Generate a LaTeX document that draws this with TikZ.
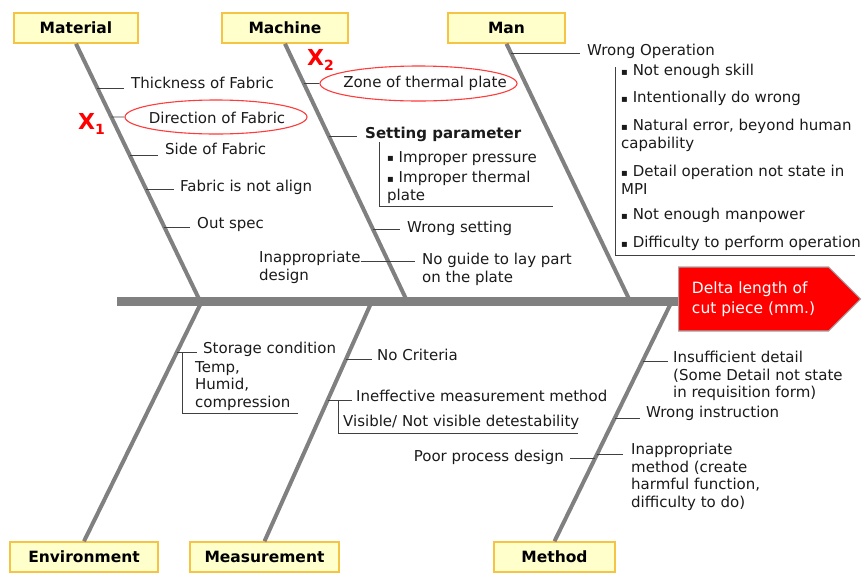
\documentclass[tikz,border=0pt]{standalone}
\usepackage{fontspec}
\setmainfont{DejaVu Sans}
\usetikzlibrary{shapes.geometric,shapes.symbols}

\definecolor{bonegray}{HTML}{808080}
\definecolor{twiggray}{HTML}{404040}
\definecolor{catfill}{HTML}{FFFFCC}
\definecolor{catedge}{HTML}{F5C445}
\definecolor{ringred}{HTML}{FF3B3B}
\definecolor{inkblack}{HTML}{1A1A1A}

\tikzset{
  cat/.style={draw=catedge, fill=catfill, line width=1.5pt, minimum height=30,
    inner sep=0, font=\fontsize{15.5}{18}\selectfont\bfseries},
  bone/.style={draw=bonegray, line width=4pt},
  spine/.style={draw=bonegray, line width=9pt},
  twig/.style={draw=twiggray, line width=0.9pt},
  lbl/.style={inner sep=0, align=left, anchor=north west, text=inkblack,
    font=\fontsize{15}{17.5}\selectfont},
  ring/.style={ellipse, draw=ringred, line width=1.1pt, inner sep=0},
  xmark/.style={inner sep=0, anchor=base west, text=red,
    font=\fontsize{22}{22}\selectfont\bfseries},
}
\newcommand{\xsub}[1]{\raisebox{-5pt}{\fontsize{14}{14}\selectfont #1}}
\newcommand{\sqb}{\raisebox{0.5pt}{\fontsize{10}{10}\selectfont ▪}\ }

\begin{document}
\begin{tikzpicture}[x=1pt,y=-1pt]
\useasboundingbox (0,0) rectangle (862,574);

% category boxes
\node[cat, minimum width=124] (mat) at (76,28) {Material};
\node[cat, minimum width=126] (mac) at (285,28) {Machine};
\node[cat, minimum width=117] (man) at (506.5,28) {Man};
\node[cat, minimum width=148] (env) at (84,557) {Environment};
\node[cat, minimum width=149] (mea) at (264.5,557) {Measurement};
\node[cat, minimum width=121] (met) at (554.5,557) {Method};

% effect
\node[signal, signal to=east, signal pointer angle=90, fill=red, draw=gray!70,
  line width=1.2pt, minimum width=182, minimum height=64, inner sep=0,
  anchor=west, text=white, align=left, font=\fontsize{15.5}{20}\selectfont]
  (head) at (678,299) {Delta length of\\cut piece (mm.)};

% spine and bones
\coordinate (tail) at (117,301);
\coordinate (matS) at (200,301);
\coordinate (macS) at (407,301);
\coordinate (manS) at (630,301);
\coordinate (envS) at (202,301);
\coordinate (meaS) at (372,301);
\coordinate (metS) at (672,301);
\draw[bone] (mat.south) -- (matS);
\draw[bone] (mac.south) -- (macS);
\draw[bone] (man.south) -- (manS);
\draw[bone] (env.north) -- (envS);
\draw[bone] (mea.north) -- (meaS);
\draw[bone] (met.north) -- (metS);
\draw[spine] (tail) -- (tail -| head.west);

% ---------------- Material
\node[lbl] (m1) at (131,77) {Thickness of Fabric};
\node[ring, minimum width=182, minimum height=34] (m2) at (216,117) {};
\node[lbl, anchor=center] (m2t) at (217,117.5) {Direction of Fabric};
\node[lbl] (m3) at (165,143) {Side of Fabric};
\node[lbl] (m4) at (180,180) {Fabric is not align};
\node[lbl] (m5) at (197,217) {Out spec};
\node[xmark] (x1) at (78,129) {X\xsub{1}};
\coordinate (pm1) at (intersection of mat.south--matS and 0,88--800,88);
\coordinate (pm2) at (intersection of mat.south--matS and 0,117--800,117);
\coordinate (pm3) at (intersection of mat.south--matS and 0,155--800,155);
\coordinate (pm4) at (intersection of mat.south--matS and 0,189--800,189);
\coordinate (pm5) at (intersection of mat.south--matS and 0,227--800,227);
\draw[twig, shorten >=7pt] (pm1) -- (pm1 -| m1.west);
\draw[twig] (pm2) -- (m2.west);
\draw[twig, shorten >=7pt] (pm3) -- (pm3 -| m3.west);
\draw[twig, shorten >=6pt] (pm4) -- (pm4 -| m4.west);
\draw[twig, shorten >=7pt] (pm5) -- (pm5 -| m5.west);

% ---------------- Machine
\node[ring, minimum width=197, minimum height=35] (c1) at (418.5,83.5) {};
\node[lbl, anchor=center] (c1t) at (425,83.5) {Zone of thermal plate};
\node[xmark] (x2) at (307,65) {X\xsub{2}};
\node[lbl, font=\fontsize{15}{17.5}\selectfont\bfseries] (c2) at (365,127) {Setting parameter};
\node[lbl] (c2a) at (387,151) {\sqb Improper pressure};
\node[lbl] (c2b) at (387,171) {\sqb Improper thermal\\plate};
\node[lbl] (c3) at (407,221) {Wrong setting};
\node[lbl] (c4) at (259,251) {Inappropriate\\design};
\node[lbl] (c5) at (422,253) {No guide to lay part\\on the plate};
\coordinate (pc1) at (intersection of mac.south--macS and 0,83.5--800,83.5);
\coordinate (pc2) at (intersection of mac.south--macS and 0,136--800,136);
\coordinate (pc3) at (intersection of mac.south--macS and 0,229--800,229);
\coordinate (pc5) at (intersection of mac.south--macS and 0,261--800,261);
\coordinate (spTop) at (379,142);
\coordinate (spEnd) at (553,206);
\draw[twig] (pc1) -- (c1.west);
\draw[twig, shorten >=8pt] (pc2) -- (pc2 -| c2.west);
\draw[twig] (spTop) |- (spEnd);
\draw[twig, shorten >=7pt] (pc3) -- (pc3 -| c3.west);
\draw[twig, shorten >=7pt] (pc5 -| c4.east) -- (pc5 -| c5.west);

% ---------------- Man
\node[lbl] (h1) at (587,44) {Wrong Operation};
\node[lbl] (h1a) at (621,64) {\sqb Not enough skill};
\node[lbl] (h1b) at (621,91) {\sqb Intentionally do wrong};
\node[lbl] (h1c) at (621,119) {\sqb Natural error, beyond human\\capability};
\node[lbl] (h1d) at (621,165) {\sqb Detail operation not state in\\MPI};
\node[lbl] (h1e) at (621,208) {\sqb Not enough manpower};
\node[lbl] (h1f) at (621,236) {\sqb Difficulty to perform operation};
\coordinate (ph1) at (intersection of man.south--manS and 0,53--800,53);
\coordinate (woTop) at (615,67);
\coordinate (woEnd) at (855,255);
\draw[twig, shorten >=7pt] (ph1) -- (ph1 -| h1.west);
\draw[twig] (woTop) |- (woEnd);

% ---------------- Environment
\node[lbl] (e1) at (203,342) {Storage condition};
\node[lbl] (e1a) at (195,361) {Temp,\\Humid,\\compression};
\coordinate (pe1) at (intersection of env.north--envS and 0,352--800,352);
\coordinate (scTop) at (182,352);
\coordinate (scEnd) at (298,413);
\draw[twig, shorten >=6pt] (pe1) -- (pe1 -| e1.west);
\draw[twig] (scTop) |- (scEnd);

% ---------------- Measurement
\node[lbl] (s1) at (377,349) {No Criteria};
\node[lbl] (s2) at (356,390) {Ineffective measurement method};
\node[lbl] (s2a) at (343,415) {Visible/ Not visible detestability};
\coordinate (ps1) at (intersection of mea.north--meaS and 0,359--800,359);
\coordinate (ps2) at (intersection of mea.north--meaS and 0,400--800,400);
\coordinate (imTop) at (338,400);
\coordinate (imEnd) at (578,433);
\draw[twig, shorten >=5pt] (ps1) -- (ps1 -| s1.west);
\draw[twig, shorten >=4pt] (ps2) -- (ps2 -| s2.west);
\draw[twig] (imTop) |- (imEnd);

% ---------------- Method
\node[lbl] (t1) at (673,351) {Insufficient detail\\(Some Detail not state\\in requisition form)};
\node[lbl] (t2) at (646,406) {Wrong instruction};
\node[lbl, anchor=north east] (t3) at (564,450) {Poor process design};
\node[lbl] (t4) at (631,443) {Inappropriate\\method (create\\harmful function,\\difficulty to do)};
\coordinate (pt1) at (intersection of met.north--metS and 0,361--800,361);
\coordinate (pt2) at (intersection of met.north--metS and 0,418--800,418);
\coordinate (pt3) at (intersection of met.north--metS and 0,458--800,458);
\coordinate (pt4) at (intersection of met.north--metS and 0,454--800,454);
\draw[twig, shorten >=5pt] (pt1) -- (pt1 -| t1.west);
\draw[twig, shorten >=6pt] (pt2) -- (pt2 -| t2.west);
\draw[twig, shorten >=6pt] (pt3) -- (pt3 -| t3.east);
\draw[twig, shorten >=8pt] (pt4) -- (pt4 -| t4.west);
\end{tikzpicture}
\end{document}
